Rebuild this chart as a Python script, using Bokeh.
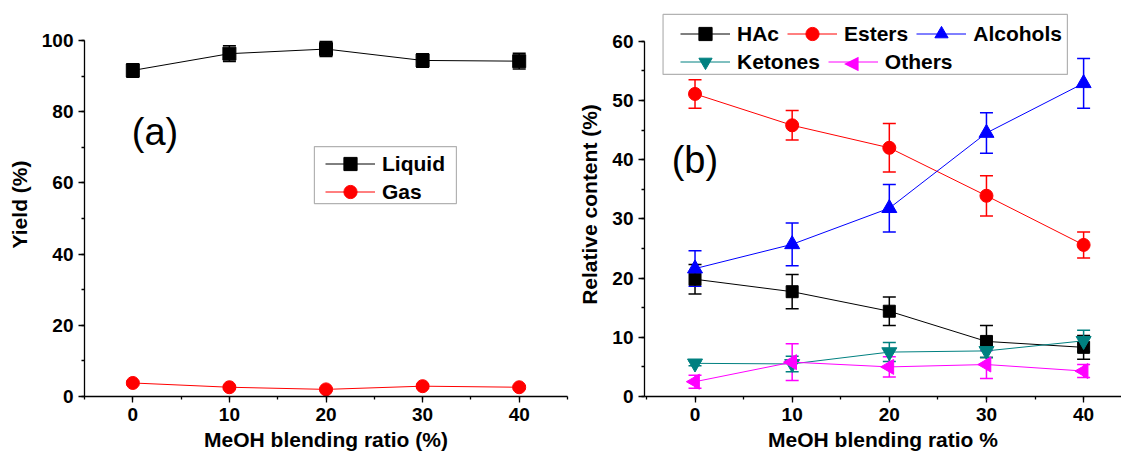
from bokeh.plotting import figure
from bokeh.models import (ColumnDataSource, Whisker, TeeHead, Legend, LegendItem,
                          Label, SingleIntervalTicker, BoxAnnotation, Range1d)
from bokeh.layouts import row
from bokeh.embed import file_html
from bokeh.resources import INLINE

# ---------------- data ----------------
ratio = [0, 10, 20, 30, 40]

liquid = [91.6, 96.3, 97.6, 94.4, 94.2]
liquid_err = [1.9, 2.2, 2.1, 1.9, 2.2]
gas = [3.8, 2.6, 2.0, 2.9, 2.6]
gas_err = [0.5, 0.4, 0.4, 0.5, 0.4]

hac = [19.8, 17.7, 14.4, 9.3, 8.3]
hac_err = [2.5, 2.9, 2.4, 2.7, 2.0]
esters = [51.1, 45.8, 42.0, 33.9, 25.6]
esters_err = [2.4, 2.5, 4.1, 3.4, 2.2]
alcohols = [21.6, 25.7, 31.8, 44.5, 52.9]
alcohols_err = [3.0, 3.6, 4.0, 3.4, 4.2]
ketones = [5.6, 5.5, 7.5, 7.7, 9.4]
ketones_err = [0.4, 1.3, 1.6, 1.1, 1.8]
others = [2.5, 5.8, 5.0, 5.4, 4.3]
others_err = [1.1, 3.1, 1.7, 2.35, 1.1]

FONT = "Liberation Sans"


def style_axes(p):
    for ax in (p.xaxis[0], p.yaxis[0]):
        ax.axis_line_width = 1.3
        ax.axis_line_color = "black"
        ax.major_tick_line_width = 1.3
        ax.minor_tick_line_width = 1.3
        ax.major_tick_line_color = "black"
        ax.minor_tick_line_color = "black"
        ax.major_tick_in = 0
        ax.major_tick_out = 6
        ax.minor_tick_in = 0
        ax.minor_tick_out = 3
        ax.major_label_text_font = FONT
        ax.major_label_text_font_style = "bold"
        ax.major_label_text_font_size = "19px"
        ax.major_label_text_color = "black"
        ax.axis_label_text_font = FONT
        ax.axis_label_text_font_style = "bold"
        ax.axis_label_text_font_size = "21px"
        ax.axis_label_text_color = "black"
    p.xaxis[0].major_label_standoff = 5
    p.xaxis[0].axis_label_standoff = 4
    p.yaxis[0].major_label_standoff = 5
    p.yaxis[0].axis_label_standoff = 8
    p.xgrid.visible = False
    p.ygrid.visible = False
    p.outline_line_color = None


def series(p, y, err, color, marker, size, angle=0.0):
    src = ColumnDataSource(dict(x=ratio, y=y,
                                upper=[a + b for a, b in zip(y, err)],
                                lower=[a - b for a, b in zip(y, err)]))
    w = Whisker(base="x", upper="upper", lower="lower", source=src,
                line_color=color, line_width=1.5,
                upper_head=TeeHead(size=13, line_color=color, line_width=1.5),
                lower_head=TeeHead(size=13, line_color=color, line_width=1.5))
    p.add_layout(w)
    lr = p.line("x", "y", source=src, line_color=color, line_width=1)
    sr = p.scatter("x", "y", source=src, marker=marker, size=size, angle=angle,
                   fill_color=color, line_color=color)
    return [lr, sr]


def legend_row(items, loc):
    return Legend(items=items, location=loc, orientation="horizontal",
                  label_text_font=FONT, label_text_font_style="bold",
                  label_text_font_size="21px", label_text_color="black",
                  glyph_width=50, glyph_height=33, label_standoff=7,
                  spacing=8, padding=0, margin=0,
                  border_line_color=None, background_fill_alpha=0)


# frames: top at 12 px, bottom at 396 px for both panels
TOP, BOTTOM, H = 12, 57, 453

# ---------------- panel (a) ----------------
p1 = figure(width=575, height=H, x_range=Range1d(-5, 45), y_range=Range1d(0, 107.87),
            output_backend="svg", toolbar_location=None,
            min_border_left=84, min_border_right=8, min_border_top=TOP, min_border_bottom=BOTTOM)
p1.xaxis.ticker = SingleIntervalTicker(interval=10, num_minor_ticks=2)
p1.yaxis.ticker = SingleIntervalTicker(interval=20, num_minor_ticks=2)
p1.yaxis.bounds = (0, 100)
p1.xaxis.axis_label = "MeOH blending ratio (%)"
p1.yaxis.axis_label = "Yield (%)"
style_axes(p1)

r_liq = series(p1, liquid, liquid_err, "black", "square", 13)
r_gas = series(p1, gas, gas_err, "red", "circle", 13)

p1.add_layout(BoxAnnotation(left=18.8, right=33.5, bottom=54.2, top=70.2,
                            fill_color="white", fill_alpha=1,
                            line_color="black", line_width=1.2))
p1.add_layout(legend_row([LegendItem(label="Liquid", renderers=r_liq)], (241, 216)))
p1.add_layout(legend_row([LegendItem(label="Gas", renderers=r_gas)], (241, 188)))
p1.add_layout(Label(x=-0.1, y=74.4, text="(a)", text_font=FONT, text_font_size="38px",
                    text_color="black", text_baseline="middle", text_align="left"))

# ---------------- panel (b) ----------------
p2 = figure(width=546, height=H, x_range=Range1d(-5.2, 43.9), y_range=Range1d(0, 64.85),
            output_backend="svg", toolbar_location=None,
            min_border_left=68, min_border_right=0, min_border_top=TOP, min_border_bottom=BOTTOM)
p2.xaxis.ticker = SingleIntervalTicker(interval=10, num_minor_ticks=2)
p2.yaxis.ticker = SingleIntervalTicker(interval=10, num_minor_ticks=2)
p2.yaxis.bounds = (0, 60)
p2.xaxis.axis_label = "MeOH blending ratio %"
p2.yaxis.axis_label = "Relative content (%)"
style_axes(p2)

r_hac = series(p2, hac, hac_err, "black", "square", 12)
r_est = series(p2, esters, esters_err, "red", "circle", 13)
r_alc = series(p2, alcohols, alcohols_err, "blue", "triangle", 15)
r_ket = series(p2, ketones, ketones_err, "#008080", "inverted_triangle", 15)
r_oth = series(p2, others, others_err, "magenta", "triangle", 15, angle=1.5708)

p2.add_layout(BoxAnnotation(left=-3.29, right=38.33, bottom=54.4, top=64.53,
                            fill_color="white", fill_alpha=1,
                            line_color="black", line_width=1.2))
p2.add_layout(legend_row([LegendItem(label="HAc", renderers=r_hac),
                          LegendItem(label="Esters", renderers=r_est),
                          LegendItem(label="Alcohols", renderers=r_alc)], (36, 346)))
p2.add_layout(legend_row([LegendItem(label="Ketones", renderers=r_ket),
                          LegendItem(label="Others", renderers=[r_oth[0]])], (36, 318)))
# left-pointing marker for the "Others" legend entry (legend glyphs ignore angle)
p2.add_layout(Label(x=16.1, y=56.5, text="\u25c0", text_font="DejaVu Sans",
                    text_font_size="19px", text_color="magenta",
                    text_baseline="middle", text_align="center"))
p2.add_layout(Label(x=-2.4, y=39.9, text="(b)", text_font=FONT, text_font_size="38px",
                    text_color="black", text_baseline="middle", text_align="left"))

layout = row(p1, p2)
open("out.html", "w").write(file_html(layout, INLINE))
